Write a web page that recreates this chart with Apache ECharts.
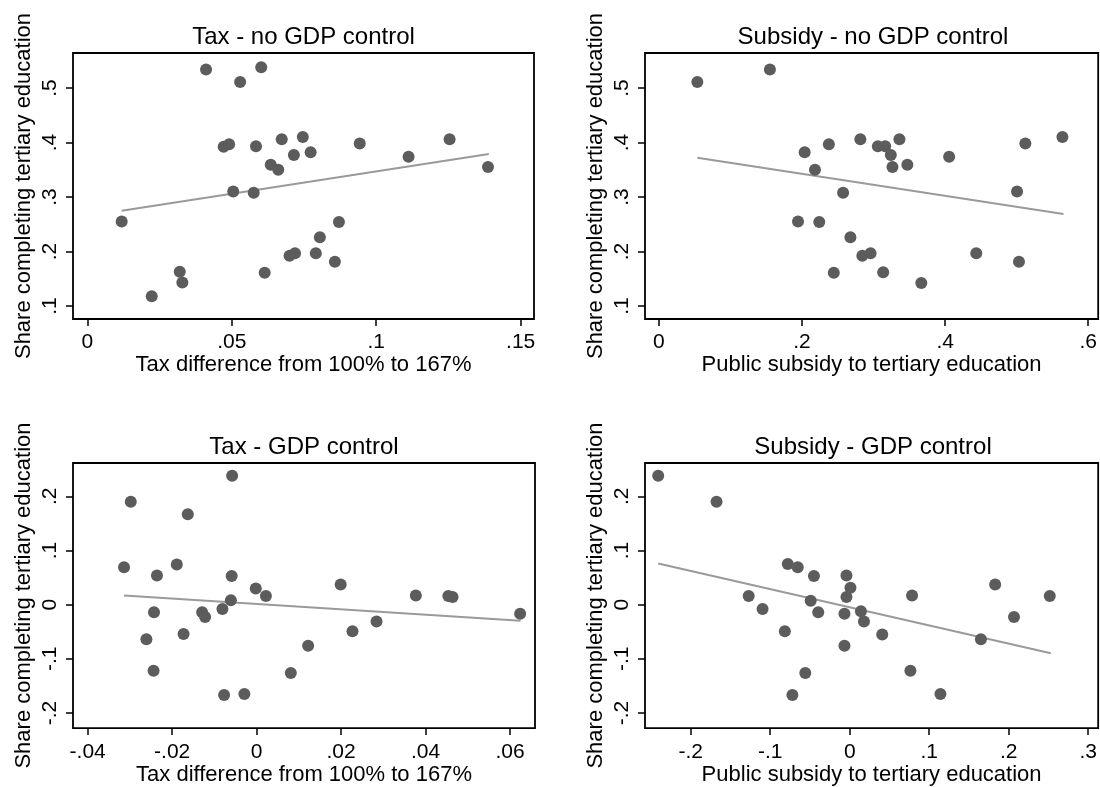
<!DOCTYPE html>
<html><head><meta charset="utf-8">
<script src="https://cdn.jsdelivr.net/npm/echarts@6/dist/echarts.min.js"></script>
<style>html,body{margin:0;padding:0;background:#fff}#c{width:1100px;height:787px}</style>
</head><body><div id="c"></div>
<script>
// ---- texts ----
const panelTitles = ['Tax - no GDP control', 'Subsidy - no GDP control', 'Tax - GDP control', 'Subsidy - GDP control'];
const xTitles = ['Tax difference from 100% to 167%', 'Public subsidy to tertiary education', 'Tax difference from 100% to 167%', 'Public subsidy to tertiary education'];
const yTitle = 'Share completing tertiary education';

// ---- tick values ----
const xTicks1 = [0, 0.05, 0.1, 0.15];
const xTicks2 = [0, 0.2, 0.4, 0.6];
const xTicks3 = [-0.04, -0.02, 0, 0.02, 0.04, 0.06];
const xTicks4 = [-0.2, -0.1, 0, 0.1, 0.2, 0.3];
const yTicksTop = [0.1, 0.2, 0.3, 0.4, 0.5];
const yTicksBottom = [-0.2, -0.1, 0, 0.1, 0.2];

// ---- panel 1: tax, no GDP control ----
const taxX = [0.0411, 0.0529, 0.0602, 0.0472, 0.0491, 0.0584, 0.0673, 0.0746, 0.0715, 0.0773, 0.0635, 0.0661, 0.0943, 0.1112, 0.1254, 0.1387, 0.0505, 0.0576, 0.0119, 0.0871, 0.0805, 0.0700, 0.0719, 0.0791, 0.0857, 0.0614, 0.0320, 0.0329, 0.0223];
const taxY = [0.534, 0.511, 0.538, 0.392, 0.397, 0.393, 0.406, 0.410, 0.377, 0.382, 0.359, 0.350, 0.398, 0.374, 0.406, 0.355, 0.310, 0.308, 0.255, 0.254, 0.226, 0.192, 0.197, 0.197, 0.181, 0.161, 0.163, 0.143, 0.118];
const taxFitX = [0.0119, 0.1390];
const taxFitY = [0.2749, 0.3789];

// ---- panel 2: subsidy, no GDP control ----
const subX = [0.0537, 0.1551, 0.2037, 0.2375, 0.2181, 0.2815, 0.3060, 0.3162, 0.3361, 0.3241, 0.3264, 0.3472, 0.4056, 0.5121, 0.5639, 0.5005, 0.2574, 0.1944, 0.2241, 0.2676, 0.2843, 0.2958, 0.4435, 0.5032, 0.2444, 0.3134, 0.3667];
const subY = [0.511, 0.534, 0.382, 0.397, 0.350, 0.406, 0.393, 0.393, 0.406, 0.377, 0.355, 0.359, 0.374, 0.398, 0.410, 0.310, 0.308, 0.255, 0.254, 0.226, 0.192, 0.197, 0.197, 0.181, 0.161, 0.162, 0.142];
const subFitX = [0.0537, 0.5653];
const subFitY = [0.3721, 0.2688];

// ---- panel 3: tax, GDP control (residuals) ----
const taxResX = [-0.0058, -0.0298, -0.0163, -0.0314, -0.0189, -0.0236, -0.0059, -0.0002, 0.0022, 0.0199, 0.0377, 0.0454, 0.0464, 0.0624, -0.0061, -0.0081, -0.0129, -0.0122, -0.0243, 0.0284, 0.0227, -0.0261, -0.0173, 0.0122, -0.0244, 0.0081, -0.0077, -0.0029];
const taxResY = [0.238, 0.190, 0.167, 0.069, 0.074, 0.054, 0.053, 0.030, 0.016, 0.037, 0.017, 0.016, 0.014, -0.017, 0.008, -0.008, -0.014, -0.023, -0.014, -0.031, -0.049, -0.064, -0.054, -0.076, -0.122, -0.126, -0.167, -0.165];
const taxResFitX = [-0.0314, 0.0625];
const taxResFitY = [0.0168, -0.0296];

// ---- panel 4: subsidy, GDP control (residuals) ----
const subResX = [-0.2409, -0.1675, -0.0779, -0.0654, -0.0450, -0.0041, 0.0009, -0.0041, 0.0784, 0.1829, 0.2516, -0.1271, -0.1096, -0.0491, -0.0396, -0.0066, 0.0141, 0.0179, 0.0409, 0.2066, 0.1650, -0.0816, -0.0066, -0.0559, 0.0763, -0.0721, 0.1141];
const subResY = [0.238, 0.190, 0.075, 0.069, 0.053, 0.054, 0.031, 0.014, 0.017, 0.037, 0.016, 0.016, -0.008, 0.007, -0.014, -0.017, -0.012, -0.031, -0.055, -0.023, -0.064, -0.049, -0.076, -0.126, -0.122, -0.167, -0.165];
const subResFitX = [-0.2409, 0.2529];
const subResFitY = [0.0758, -0.0899];

// ---- build ----
const zip = (a, b) => a.map((v, i) => [v, b[i]]);
function fmt(v) {
  if (Math.abs(v) < 1e-9) return '0';
  return String(+v.toFixed(4)).replace(/^(-?)0\./, '$1.');
}
const FONT = '"Liberation Sans", Arial, Helvetica, sans-serif';
const grids = [
  {left: 73, top: 53, width: 461, height: 266},
  {left: 645, top: 53, width: 456, height: 266},
  {left: 73, top: 463, width: 462, height: 268},
  {left: 645, top: 463, width: 456, height: 268}
];
const xRanges = [[-0.00495, 0.15462], [-0.01944, 0.61389], [-0.04348, 0.06592], [-0.2575, 0.3125]];
const yRanges = [[0.07615, 0.56422], [0.07615, 0.56422], [-0.22795, 0.26155], [-0.22795, 0.26155]];
const xTickSets = [xTicks1, xTicks2, xTicks3, xTicks4];
const yTickSets = [yTicksTop, yTicksTop, yTicksBottom, yTicksBottom];
const xLabelMargin = [13, 13, 14, 14];
const xNameGap = [34, 34, 35, 35];
const scatterSets = [zip(taxX, taxY), zip(subX, subY), zip(taxResX, taxResY), zip(subResX, subResY)];
const fitSets = [zip(taxFitX, taxFitY), zip(subFitX, subFitY), zip(taxResFitX, taxResFitY), zip(subResFitX, subResFitY)];

const option = {
  backgroundColor: '#fff',
  animation: false,
  title: grids.map((g, i) => ({
    text: panelTitles[i],
    left: g.left + g.width / 2,
    top: g.top - 28,
    textAlign: 'center',
    padding: 0,
    textStyle: {fontFamily: FONT, fontSize: 24, fontWeight: 'normal', color: '#000'}
  })),
  grid: grids.map(g => Object.assign({show: true, borderColor: '#000', borderWidth: 1.8, backgroundColor: '#fff'}, g)),
  xAxis: grids.map((g, i) => ({
    type: 'value', gridIndex: i, min: xRanges[i][0], max: xRanges[i][1], position: 'bottom',
    name: xTitles[i], nameLocation: 'middle', nameGap: xNameGap[i],
    nameTextStyle: {fontFamily: FONT, fontSize: 22, color: '#000'},
    axisLine: {show: false, onZero: false},
    axisTick: {show: true, inside: false, length: 7, customValues: xTickSets[i], lineStyle: {color: '#000', width: 1.5}},
    axisLabel: {show: true, customValues: xTickSets[i], formatter: fmt, margin: xLabelMargin[i], fontFamily: FONT, fontSize: 21, color: '#000'},
    splitLine: {show: false}
  })),
  yAxis: grids.map((g, i) => ({
    type: 'value', gridIndex: i, min: yRanges[i][0], max: yRanges[i][1], position: 'left',
    name: yTitle, nameLocation: 'middle', nameGap: 38, nameRotate: 90,
    nameTextStyle: {fontFamily: FONT, fontSize: 22, color: '#000'},
    axisLine: {show: false, onZero: false},
    axisTick: {show: true, inside: false, length: 7, customValues: yTickSets[i], lineStyle: {color: '#000', width: 1.5}},
    axisLabel: {show: true, customValues: yTickSets[i], formatter: fmt, rotate: 90, margin: 12, fontFamily: FONT, fontSize: 21, color: '#000'},
    splitLine: {show: false}
  })),
  series: [].concat(
    fitSets.map((d, i) => ({
      type: 'line', xAxisIndex: i, yAxisIndex: i, data: d, symbol: 'none',
      lineStyle: {color: '#9a9a9a', width: 2}, silent: true, z: 2
    })),
    scatterSets.map((d, i) => ({
      type: 'scatter', xAxisIndex: i, yAxisIndex: i, data: d, symbol: 'circle', symbolSize: 12,
      itemStyle: {color: '#5c5c5c', opacity: 1}, silent: true, z: 3
    }))
  )
};
const chart = echarts.init(document.getElementById('c'), null, {renderer: 'canvas'});
chart.setOption(option);
</script>
</body></html>
